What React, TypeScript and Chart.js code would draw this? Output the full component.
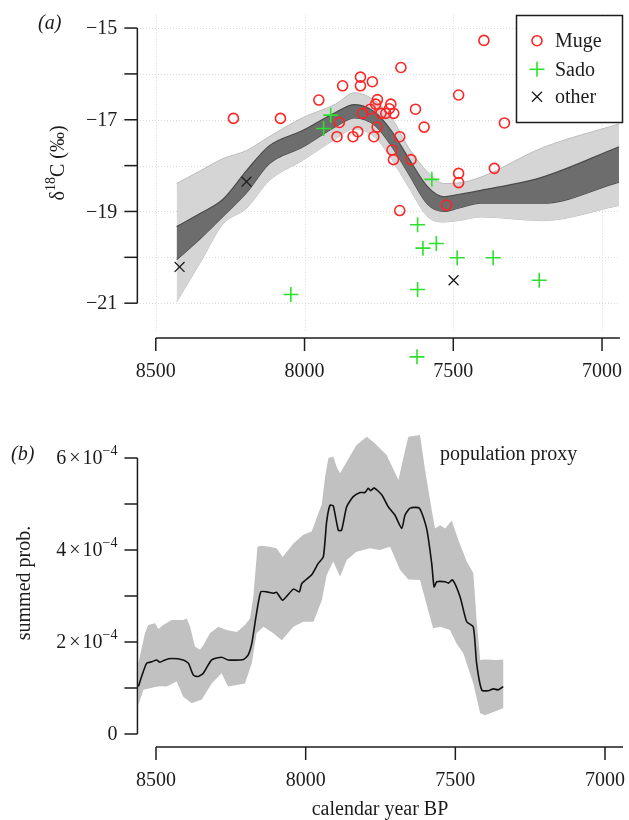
import React, { useEffect, useRef } from 'react';
import { Chart, registerables } from 'chart.js';

Chart.register(...registerables);

const FONT = '"Liberation Serif", "DejaVu Serif", serif';

// ---------- Panel (a) data ----------
const mugeYears = [8239, 8081, 7952, 7872, 7812, 7812, 7772, 7676, 7397, 7482, 7328, 7362, 7482, 7482, 7755, 7761, 7710, 7715, 7779, 7805, 7743, 7727, 7700, 7627, 7883, 7756, 7598, 7891, 7837, 7821, 7767, 7680, 7706, 7701, 7642, 7680, 7523];
const mugeVals = [-16.97, -16.97, -16.57, -16.26, -16.07, -16.26, -16.17, -15.86, -15.27, -16.46, -17.07, -18.06, -18.17, -18.37, -16.56, -16.66, -16.66, -16.76, -16.77, -16.86, -16.86, -16.86, -16.86, -16.77, -17.06, -17.16, -17.16, -17.37, -17.37, -17.26, -17.37, -17.37, -17.66, -17.87, -17.87, -18.98, -18.86];

const sadoYears = [7912, 7936, 7572, 7620, 7602, 7557, 7487, 7366, 7620, 7211, 8046, 7622];
const sadoVals = [-16.9, -17.19, -18.3, -19.29, -19.8, -19.7, -20.01, -20.01, -20.7, -20.5, -20.81, -22.17];

const otherYears = [8420, 8195, 7499];
const otherVals = [-20.21, -18.35, -20.5];

const bandYears = [8430, 8350, 8275, 8195, 8119, 8008, 7896, 7832, 7762, 7708, 7651, 7585, 7531, 7484, 7407, 7200, 6943];
const lightUpper = [-18.39, -18.11, -17.85, -17.67, -17.37, -16.96, -16.66, -16.41, -16.59, -16.95, -17.6, -18.15, -18.39, -18.38, -18.25, -17.61, -17.09];
const darkUpper = [-19.33, -19.04, -18.74, -18.11, -17.57, -17.24, -16.84, -16.67, -16.84, -17.24, -17.83, -18.47, -18.68, -18.63, -18.54, -18.25, -17.59];
const darkLower = [-20.05, -19.59, -19.11, -18.59, -17.96, -17.6, -17.15, -16.96, -17.13, -17.57, -18.17, -18.85, -19.0, -18.93, -18.82, -18.82, -18.36];
const lightLower = [-20.97, -20.11, -19.28, -18.93, -18.33, -17.89, -17.42, -17.2, -17.39, -17.85, -18.46, -19.12, -19.23, -19.2, -19.12, -19.2, -18.87];

const topXTicks = [8500, 8000, 7500, 7000];
const topYTicks = [-15, -16, -17, -18, -19, -20, -21];
const topYLabels = [-15, -17, -19, -21];
const legendLabels = ['Muge', 'Sado', 'other'];

// ---------- Panel (b) data (values in units of 1e-4) ----------
const popYears = [8559, 8548, 8531, 8514, 8498, 8487, 8470, 8448, 8409, 8392, 8375, 8359, 8342, 8314, 8281, 8259, 8208, 8192, 8180, 8166, 8150, 8130, 8108, 8097, 8077, 8041, 8021, 8013, 7980, 7958, 7941, 7930, 7919, 7908, 7891, 7880, 7863, 7841, 7818, 7802, 7791, 7783, 7771, 7746, 7724, 7702, 7679, 7668, 7651, 7620, 7596, 7579, 7571, 7562, 7534, 7523, 7509, 7484, 7462, 7440, 7429, 7412, 7390, 7373, 7356, 7340];
const popVals = [1.03, 1.25, 1.54, 1.57, 1.61, 1.56, 1.61, 1.64, 1.61, 1.54, 1.28, 1.25, 1.32, 1.61, 1.67, 1.61, 1.62, 1.72, 1.97, 2.55, 3.09, 3.09, 3.06, 3.08, 2.91, 3.15, 3.09, 3.27, 3.46, 3.71, 3.85, 4.61, 4.97, 4.96, 4.43, 4.43, 4.94, 5.16, 5.25, 5.25, 5.34, 5.29, 5.35, 5.2, 4.94, 4.76, 4.47, 4.76, 4.91, 4.91, 4.47, 3.71, 3.2, 3.31, 3.31, 3.28, 3.35, 2.98, 2.44, 2.33, 1.54, 0.96, 0.94, 0.98, 0.96, 1.03];

const popUpYears = [8559, 8537, 8526, 8503, 8492, 8476, 8448, 8409, 8397, 8386, 8370, 8353, 8342, 8320, 8292, 8264, 8230, 8203, 8186, 8175, 8161, 8147, 8119, 8097, 8077, 8041, 8008, 7980, 7946, 7935, 7924, 7908, 7896, 7885, 7863, 7830, 7796, 7774, 7730, 7690, 7668, 7657, 7618, 7601, 7579, 7568, 7551, 7534, 7512, 7490, 7462, 7440, 7429, 7417, 7401, 7362, 7340];
const popUpVals = [1.54, 2.19, 2.37, 2.41, 2.28, 2.37, 2.48, 2.48, 2.51, 2.33, 1.9, 1.83, 1.93, 2.19, 2.33, 2.26, 2.22, 2.37, 2.51, 2.98, 4.07, 4.09, 4.07, 4.04, 3.85, 4.14, 4.33, 4.4, 5.0, 5.6, 6.0, 6.03, 5.8, 5.67, 5.92, 6.28, 6.46, 6.35, 6.07, 5.52, 6.17, 6.46, 6.5, 5.74, 4.87, 4.47, 4.54, 4.47, 4.64, 4.22, 3.75, 3.5, 2.48, 1.61, 1.62, 1.61, 1.62];

const popLoYears = [8559, 8542, 8503, 8487, 8464, 8431, 8409, 8381, 8347, 8314, 8281, 8259, 8203, 8180, 8164, 8141, 8108, 8080, 8041, 8008, 7974, 7946, 7930, 7908, 7885, 7863, 7830, 7786, 7752, 7718, 7685, 7657, 7618, 7585, 7574, 7551, 7518, 7496, 7473, 7440, 7417, 7401, 7373, 7340];
const popLoVals = [0.63, 0.96, 1.02, 1.04, 1.03, 1.14, 0.81, 0.67, 0.75, 1.1, 1.32, 1.03, 1.1, 1.54, 2.19, 2.33, 2.19, 2.04, 2.33, 2.44, 2.44, 2.91, 3.45, 3.75, 3.42, 3.78, 3.96, 4.04, 4.0, 4.07, 3.57, 3.36, 3.35, 2.55, 2.3, 2.33, 2.26, 1.97, 1.75, 1.1, 0.45, 0.41, 0.48, 0.56];

const botXTicks = [8500, 8000, 7500, 7000];
const botYTicks = [0, 1, 2, 3, 4, 5, 6];
const botYLabels = [0, 2, 4, 6];
const E4 = 1e-4;

// ---------- helpers ----------
const AX = '#1c1c1c';
const RED = '#ff2424';
const GREEN = '#2ee02e';

function seg(ctx: CanvasRenderingContext2D, x1: number, y1: number, x2: number, y2: number) {
  ctx.beginPath();
  ctx.moveTo(x1, y1);
  ctx.lineTo(x2, y2);
  ctx.stroke();
}

function rotLabel(ctx: CanvasRenderingContext2D, cx: number, cy: number, parts: { t: string; size: number; dy: number }[]) {
  ctx.save();
  ctx.translate(cx, cy);
  ctx.rotate(-Math.PI / 2);
  ctx.textBaseline = 'alphabetic';
  ctx.textAlign = 'left';
  let total = 0;
  const ws = parts.map((p) => {
    ctx.font = `${p.size}px ${FONT}`;
    const w = ctx.measureText(p.t).width;
    total += w;
    return w;
  });
  let xp = -total / 2;
  parts.forEach((p, i) => {
    ctx.font = `${p.size}px ${FONT}`;
    ctx.fillText(p.t, xp, p.dy);
    xp += ws[i];
  });
  ctx.restore();
}

function sciLabel(ctx: CanvasRenderingContext2D, v: number, right: number, y: number) {
  ctx.textBaseline = 'middle';
  if (v === 0) {
    ctx.font = `20px ${FONT}`;
    ctx.textAlign = 'right';
    ctx.fillText('0', right, y);
    return;
  }
  const parts = [
    { t: String(v), size: 20, dy: 0, gap: 3 },
    { t: '\u00d7', size: 20, dy: 0, gap: 2 },
    { t: '10', size: 20, dy: 0, gap: 0 },
    { t: '\u22124', size: 14, dy: -8, gap: 0 },
  ];
  let total = 0;
  const ws = parts.map((p) => {
    ctx.font = `${p.size}px ${FONT}`;
    const w = ctx.measureText(p.t).width + p.gap;
    total += w;
    return w;
  });
  let xp = right - total;
  ctx.textAlign = 'left';
  parts.forEach((p, i) => {
    ctx.font = `${p.size}px ${FONT}`;
    ctx.fillText(p.t, xp, y + p.dy);
    xp += ws[i];
  });
}

const topDecor = {
  id: 'topDecor',
  beforeDatasetsDraw(chart: any) {
    const { ctx, chartArea } = chart;
    const x = chart.scales.x;
    const y = chart.scales.y;
    ctx.save();
    ctx.strokeStyle = '#d9d9d9';
    ctx.lineWidth = 1;
    ctx.setLineDash([1, 2]);
    topYTicks.forEach((v) => {
      const py = Math.round(y.getPixelForValue(v)) + 0.5;
      seg(ctx, chartArea.left, py, chartArea.right, py);
    });
    topXTicks.forEach((t) => {
      const px = Math.round(x.getPixelForValue(t)) + 0.5;
      seg(ctx, px, y.getPixelForValue(-14.7), px, y.getPixelForValue(-21.6));
    });
    ctx.restore();
  },
  afterDatasetsDraw(chart: any) {
    const { ctx, chartArea } = chart;
    const x = chart.scales.x;
    const y = chart.scales.y;
    ctx.save();
    ctx.setLineDash([]);
    ctx.strokeStyle = AX;
    ctx.fillStyle = AX;
    ctx.lineWidth = 1.5;
    // y axis
    const yAxX = x.getPixelForValue(8562);
    seg(ctx, yAxX, y.getPixelForValue(-15), yAxX, y.getPixelForValue(-21));
    topYTicks.forEach((v) => {
      const py = y.getPixelForValue(v);
      seg(ctx, yAxX - 13, py, yAxX, py);
    });
    ctx.font = `20px ${FONT}`;
    ctx.textAlign = 'right';
    ctx.textBaseline = 'middle';
    topYLabels.forEach((v) => {
      ctx.fillText('\u2212' + Math.abs(v), yAxX - 20, y.getPixelForValue(v) + 1);
    });
    // x axis
    const xAxY = y.getPixelForValue(-21.76);
    seg(ctx, x.getPixelForValue(8500), xAxY, chartArea.right, xAxY);
    ctx.textAlign = 'center';
    topXTicks.forEach((t) => {
      const px = x.getPixelForValue(t);
      seg(ctx, px, xAxY, px, xAxY + 13);
      ctx.fillText(String(t), px, xAxY + 34);
    });
    // y title
    rotLabel(ctx, 57, 163, [
      { t: '\u03b4', size: 20, dy: 7 },
      { t: '18', size: 14, dy: -2 },
      { t: 'C (\u2030)', size: 20, dy: 7 },
    ]);
    // panel label
    ctx.font = `italic 20px ${FONT}`;
    ctx.textAlign = 'left';
    ctx.textBaseline = 'middle';
    ctx.fillText('(a)', 38, 24);
    // legend
    ctx.fillStyle = '#ffffff';
    ctx.fillRect(516.5, 15.5, 106, 107);
    ctx.strokeStyle = AX;
    ctx.lineWidth = 1.5;
    ctx.strokeRect(516.5, 15.5, 106, 107);
    const sx = 537;
    const rows = [40.7, 69.3, 96.7];
    ctx.lineWidth = 1.6;
    ctx.strokeStyle = RED;
    ctx.beginPath();
    ctx.arc(sx, rows[0], 5, 0, Math.PI * 2);
    ctx.stroke();
    ctx.strokeStyle = GREEN;
    ctx.lineWidth = 1.6;
    seg(ctx, sx - 7.5, rows[1], sx + 7.5, rows[1]);
    seg(ctx, sx, rows[1] - 7.5, sx, rows[1] + 7.5);
    ctx.strokeStyle = AX;
    ctx.lineWidth = 1.3;
    seg(ctx, sx - 5, rows[2] - 5, sx + 5, rows[2] + 5);
    seg(ctx, sx - 5, rows[2] + 5, sx + 5, rows[2] - 5);
    ctx.fillStyle = AX;
    ctx.font = `20px ${FONT}`;
    legendLabels.forEach((l, i) => ctx.fillText(l, 555, rows[i] + 1));
    ctx.restore();
  },
};

const botDecor = {
  id: 'botDecor',
  afterDatasetsDraw(chart: any) {
    const { ctx, chartArea } = chart;
    const x = chart.scales.x;
    const y = chart.scales.y;
    ctx.save();
    ctx.strokeStyle = AX;
    ctx.fillStyle = AX;
    ctx.lineWidth = 1.5;
    const yAxX = x.getPixelForValue(8562);
    seg(ctx, yAxX, y.getPixelForValue(0), yAxX, y.getPixelForValue(6 * E4));
    botYTicks.forEach((v) => {
      const py = y.getPixelForValue(v * E4);
      seg(ctx, yAxX - 13, py, yAxX, py);
    });
    botYLabels.forEach((v) => sciLabel(ctx, v, yAxX - 20, y.getPixelForValue(v * E4) + 1));
    const xAxY = y.getPixelForValue(-0.283 * E4);
    seg(ctx, x.getPixelForValue(8500), xAxY, chartArea.right, xAxY);
    ctx.font = `20px ${FONT}`;
    ctx.textAlign = 'center';
    ctx.textBaseline = 'middle';
    botXTicks.forEach((t) => {
      const px = x.getPixelForValue(t);
      seg(ctx, px, xAxY, px, xAxY + 13);
      ctx.fillText(String(t), px, xAxY + 34);
    });
    ctx.fillText('calendar year BP', 380, 415);
    ctx.textAlign = 'left';
    ctx.fillText('population proxy', 440, 60);
    ctx.font = `italic 20px ${FONT}`;
    ctx.fillText('(b)', 11, 60);
    rotLabel(ctx, 23, 188, [{ t: 'summed prob.', size: 20, dy: 7 }]);
    ctx.restore();
  },
};

function pts(xs: number[], ys: number[], k = 1) {
  return xs.map((v, i) => ({ x: v, y: ys[i] * k }));
}

function bandLine(vals: number[], color: string, fillColor: string, width: number, fill: any, order: number) {
  return {
    data: pts(bandYears, vals),
    borderColor: color,
    borderWidth: width,
    backgroundColor: fillColor,
    pointRadius: 0,
    fill,
    showLine: true,
    cubicInterpolationMode: 'monotone',
    order,
  };
}

export default function App() {
  const topRef = useRef<HTMLCanvasElement>(null);
  const botRef = useRef<HTMLCanvasElement>(null);

  useEffect(() => {
    document.body.style.margin = '0';
    const top = new Chart(topRef.current as HTMLCanvasElement, {
      type: 'line',
      data: {
        datasets: [
          {
            data: pts(mugeYears, mugeVals),
            showLine: false,
            pointStyle: 'circle',
            pointRadius: 5,
            pointBorderWidth: 1.6,
            pointBorderColor: RED,
            pointBackgroundColor: 'rgba(0,0,0,0)',
            order: 0,
          },
          {
            data: pts(sadoYears, sadoVals),
            showLine: false,
            pointStyle: 'cross',
            pointRadius: 7.5,
            pointBorderWidth: 1.6,
            pointBorderColor: GREEN,
            order: 1,
          },
          {
            data: pts(otherYears, otherVals),
            showLine: false,
            pointStyle: 'crossRot',
            pointRadius: 7,
            pointBorderWidth: 1.3,
            pointBorderColor: AX,
            order: 2,
          },
          bandLine(darkUpper, '#4a4a4a', '#6d6d6d', 1.2, '+1', 3),
          bandLine(darkLower, '#4a4a4a', '#6d6d6d', 1.2, false, 4),
          bandLine(lightUpper, '#bcbcbc', '#d5d5d5', 1, '+1', 5),
          bandLine(lightLower, '#bcbcbc', '#d5d5d5', 1, false, 6),
        ] as any,
      },
      options: {
        responsive: false,
        animation: false,
        devicePixelRatio: 1,
        layout: { padding: { left: 122, right: 6, top: 8, bottom: 25 } },
        scales: {
          x: { type: 'linear', display: false, min: 6939.9, max: 8613.6, reverse: true },
          y: { type: 'linear', display: false, min: -22.457, max: -14.587 },
        },
        plugins: { legend: { display: false }, tooltip: { enabled: false } },
        events: [],
      } as any,
      plugins: [topDecor],
    });

    const bandPoly = pts(popUpYears, popUpVals, E4).concat(pts(popLoYears, popLoVals, E4).reverse());
    const bot = new Chart(botRef.current as HTMLCanvasElement, {
      type: 'line',
      data: {
        datasets: [
          {
            data: pts(popYears, popVals, E4),
            borderColor: '#111111',
            borderWidth: 1.6,
            pointRadius: 0,
            fill: false,
            tension: 0.2,
            order: 0,
          },
          {
            data: bandPoly,
            borderWidth: 0,
            borderColor: 'rgba(0,0,0,0)',
            backgroundColor: '#c1c1c1',
            pointRadius: 0,
            fill: 'shape',
            tension: 0,
            order: 1,
          },
        ] as any,
      },
      options: {
        responsive: false,
        animation: false,
        devicePixelRatio: 1,
        layout: { padding: { left: 122, right: 6, top: 35, bottom: 60 } },
        scales: {
          x: { type: 'linear', display: false, min: 6939.9, max: 8613.6, reverse: true },
          y: { type: 'linear', display: false, min: -0.5652 * E4, max: 6.6087 * E4 },
        },
        plugins: { legend: { display: false }, tooltip: { enabled: false } },
        events: [],
      } as any,
      plugins: [botDecor],
    });

    return () => {
      top.destroy();
      bot.destroy();
    };
  }, []);

  return (
    <div style={{ width: 629, height: 820, background: '#ffffff' }}>
      <canvas ref={topRef} width={629} height={395} style={{ display: 'block', width: 629, height: 395 }} />
      <canvas ref={botRef} width={629} height={425} style={{ display: 'block', width: 629, height: 425 }} />
    </div>
  );
}
